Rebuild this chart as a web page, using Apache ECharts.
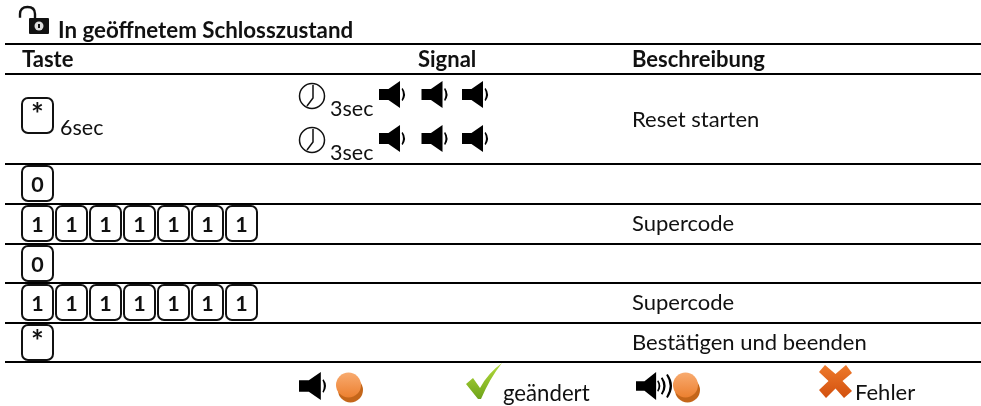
<!DOCTYPE html>
<html>
<head>
<meta charset="utf-8">
<style>
  html, body { margin: 0; padding: 0; background: #fff; }
  #chart { width: 981px; height: 406px; }
</style>
<script src="https://cdn.jsdelivr.net/npm/echarts@6/dist/echarts.min.js"></script>
</head>
<body>
<div id="chart"></div>
<script>
// table content
const title = 'In geöffnetem Schlosszustand'
const headers = ['Taste', 'Signal', 'Beschreibung']
const headerX = [22, 418, 632]
const ruleY = [44, 74, 164, 204, 244, 283, 323, 362]
const keyRows = [['*'], ['0'], ['1', '1', '1', '1', '1', '1', '1'], ['0'], ['1', '1', '1', '1', '1', '1', '1'], ['*']]
const keyRowTop = [98, 166, 206, 246, 285, 325]
const descriptions = ['Reset starten', '', 'Supercode', '', 'Supercode', 'Bestätigen und beenden']
const descriptionY = [120, 0, 224, 0, 303, 343]
const clockY = [96, 140]
const speakerX = [392, 434.5, 475]
const legendTexts = ['geändert', 'Fehler']

const font = 'Lato, Carlito, sans-serif'
const KEY_W = 31
const KEY_H = 35
const KEY_STEP = 34

const speakerPath = 'path://M0 8H9L20 0V27L9 19H0ZM22.5 7Q27 13.5 22.5 20L21.5 19Q24 13.5 21.5 8Z'
const loudPath = 'path://M0 9H8L19 0V27L8 18H0ZM21 8Q25 13.5 21 19L20 18Q22.5 13.5 20 9ZM25 5Q31 13.5 25 22L23.5 21Q28 13.5 23.5 6ZM30 2Q38 13.5 30 25L28.5 24Q35 13.5 28.5 3Z'
const checkPath = 'path://M0 21L7 15L14 25Q22 10 36 0Q24 15 15 36H12Z'
const crossPath = 'path://M6 0L16.5 9L27 0L33 8L23.5 16L33 26L25 33L16.5 23.5L7 33L0 25L9.5 16L0 7Z'

const text = (x, y, t, size, weight, align) => ({
  type: 'text',
  style: {
    x, y, text: t, fill: '#111',
    font: `${weight || 'normal'} ${size}px ${font}`,
    textAlign: align || 'left', textVerticalAlign: 'middle'
  }
})

// rules between the rows
function renderRule(params, api) {
  const a = api.coord([5, api.value(0)])
  const b = api.coord([981, api.value(0)])
  return { type: 'rect', shape: { x: a[0], y: a[1] - 1, width: b[0] - a[0], height: 2 }, style: { fill: '#000' } }
}

// one key cap per item: row index, column index
function renderKey(params, api) {
  const row = api.value(0)
  const col = api.value(1)
  const p = api.coord([22 + col * KEY_STEP, keyRowTop[row]])
  const label = keyRows[row][col]
  const star = label === '*'
  return {
    type: 'group',
    children: [
      { type: 'rect', shape: { x: p[0], y: p[1], width: KEY_W, height: KEY_H, r: 6 }, style: { fill: '#fff', stroke: '#111', lineWidth: 2 } },
      text(p[0] + KEY_W / 2, p[1] + (star ? 17 : 19), label, star ? 30 : 21.5, 'bold', 'center')
    ]
  }
}

function renderClock(params, api) {
  const p = api.coord([312, api.value(0)])
  return {
    type: 'group',
    children: [
      { type: 'circle', shape: { cx: p[0], cy: p[1], r: 12.5 }, style: { fill: 'none', stroke: '#111', lineWidth: 1.5 } },
      { type: 'polyline', shape: { points: [[p[0] + 1, p[1] - 11], [p[0] + 1, p[1] + 2], [p[0] - 5, p[1] + 10]] }, style: { fill: 'none', stroke: '#111', lineWidth: 1.5 } },
      text(p[0] + 18, p[1] + 13, '3sec', 21.5)
    ]
  }
}

function renderText(params, api) {
  const row = api.value(0)
  const p = api.coord([632, descriptionY[row]])
  return text(p[0], p[1], descriptions[row], 22)
}

function renderBall(params, api) {
  const p = api.coord([api.value(0), 385])
  return {
    type: 'group',
    children: [
      { type: 'circle', shape: { cx: p[0] + 2, cy: p[1] + 5, r: 12.5 }, style: { fill: '#c4661a' } },
      {
        type: 'circle', shape: { cx: p[0], cy: p[1], r: 12.5 },
        style: { fill: new echarts.graphic.LinearGradient(0, 0, 0, 1, [{ offset: 0, color: '#f8ab70' }, { offset: 1, color: '#ec8030' }]) }
      }
    ]
  }
}

function renderStatic(params, api) {
  const lock = api.coord([20, 7])
  const headerY = api.coord([0, 60])[1]
  const lx = lock[0]
  const ly = lock[1]
  return {
    type: 'group',
    children: [
      { type: 'path', shape: { pathData: 'M1.5 10V7Q1.5 1.2 7.5 1.2Q13.5 1.2 13.5 7V11', x: lx, y: ly, width: 15, height: 12, layout: 'cover' }, style: { fill: 'none', stroke: '#111', lineWidth: 2.4 } },
      { type: 'rect', shape: { x: lx + 9, y: ly + 11, width: 20, height: 16, r: 1 }, style: { fill: '#111' } },
      { type: 'circle', shape: { cx: lx + 19, cy: ly + 19, r: 4.5 }, style: { fill: '#ddd' } },
      { type: 'rect', shape: { x: lx + 18, y: ly + 17, width: 2, height: 4 }, style: { fill: '#111' } },
      text(58, 31, title, 22.3, 'bold'),
      ...headers.map((h, i) => text(headerX[i], headerY, h, 22, 'bold')),
      text(60, 128, '6sec', 21.5),
      text(503, 394, legendTexts[0], 22.2),
      text(855, 393, legendTexts[1], 22)
    ]
  }
}

const keyItems = []
keyRows.forEach((keys, row) => keys.forEach((k, col) => keyItems.push([row, col])))
const speakerItems = []
clockY.forEach(y => speakerX.forEach(x => speakerItems.push([x, y - 1.5])))

const chart = echarts.init(document.getElementById('chart'), null, { renderer: 'canvas' })
chart.setOption({
  animation: false,
  backgroundColor: '#fff',
  grid: { left: 0, top: 0, width: 981, height: 406 },
  xAxis: { type: 'value', min: 0, max: 981, show: false },
  yAxis: { type: 'value', min: 0, max: 406, inverse: true, show: false },
  series: [
    { type: 'custom', silent: true, renderItem: renderRule, data: ruleY.map(y => [y]), encode: { y: 0 } },
    { type: 'custom', silent: true, renderItem: renderKey, data: keyItems },
    { type: 'custom', silent: true, renderItem: renderClock, data: clockY.map(y => [y]) },
    { type: 'custom', silent: true, renderItem: renderText, data: descriptions.map((d, i) => [i]).filter(d => descriptions[d[0]]) },
    { type: 'custom', silent: true, renderItem: renderBall, data: [[348.5], [685.5]] },
    { type: 'custom', silent: true, renderItem: renderStatic, data: [[0]] },
    { type: 'scatter', silent: true, symbol: speakerPath, symbolSize: [26, 27], itemStyle: { color: '#000', opacity: 1 }, data: speakerItems },
    { type: 'scatter', silent: true, symbol: speakerPath, symbolSize: [27, 28], itemStyle: { color: '#000', opacity: 1 }, data: [[312.5, 386]] },
    { type: 'scatter', silent: true, symbol: loudPath, symbolSize: [36, 28], itemStyle: { color: '#000', opacity: 1 }, data: [[654, 386]] },
    {
      type: 'scatter', silent: true, symbol: checkPath, symbolSize: [36, 36],
      itemStyle: { opacity: 1, color: new echarts.graphic.LinearGradient(0, 0, 0, 1, [{ offset: 0, color: '#b5dc3c' }, { offset: 1, color: '#6ea31a' }]) },
      data: [[484, 381]]
    },
    {
      type: 'scatter', silent: true, symbol: crossPath, symbolSize: [33, 33],
      itemStyle: { opacity: 1, color: new echarts.graphic.LinearGradient(0, 0, 0, 1, [{ offset: 0, color: '#ee7a2c' }, { offset: 1, color: '#d2500e' }]) },
      data: [[835.5, 381.5]]
    }
  ]
})
</script>
</body>
</html>
